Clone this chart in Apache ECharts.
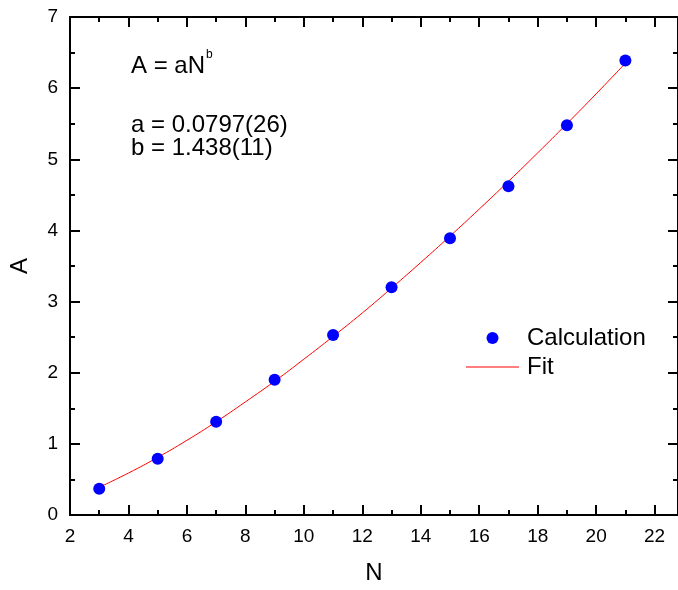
<!DOCTYPE html>
<html>
<head>
<meta charset="utf-8">
<script src="https://cdn.jsdelivr.net/npm/echarts@6/dist/echarts.min.js"></script>
<style>html,body{margin:0;padding:0;background:#fff}#c{width:678px;height:590px}</style>
</head>
<body>
<div id="c"></div>
<script>
// Calculated points
var calcN = [3, 5, 7, 9, 11, 13, 15, 17, 19, 21];
var calcA = [0.37, 0.79, 1.31, 1.90, 2.53, 3.20, 3.89, 4.62, 5.48, 6.39];
// Fit curve
var fitN = [3, 4, 5, 6, 7, 8, 9, 10, 11, 12, 13, 14, 15, 16, 17, 18, 19, 20, 21];
var fitA = [0.39, 0.59, 0.81, 1.05, 1.31, 1.59, 1.88, 2.19, 2.51, 2.84, 3.19, 3.55, 3.92, 4.30, 4.69, 5.09, 5.50, 5.92, 6.35];
var xTicks = [2, 4, 6, 8, 10, 12, 14, 16, 18, 20, 22];
var yTicks = [0, 1, 2, 3, 4, 5, 6, 7];
var formulaText = 'A = aN';
var formulaSup = 'b';
var paramA = 'a = 0.0797(26)';
var paramB = 'b = 1.438(11)';

var FONT = '"Liberation Sans", Arial, sans-serif';
var chart = echarts.init(document.getElementById('c'), null, {renderer: 'canvas'});

function zip(a, b) { return a.map(function (v, i) { return [v, b[i]]; }); }

var axisCommon = {
  axisLine: {onZero: false, lineStyle: {color: '#000', width: 2}},
  axisTick: {inside: true, length: 10, lineStyle: {color: '#000', width: 2}},
  minorTick: {show: true, splitNumber: 2, length: 5, lineStyle: {color: '#000', width: 2}},
  splitLine: {show: false}
};

chart.setOption({
  animation: false,
  backgroundColor: '#fff',
  grid: {left: 67, right: 0, top: 17, bottom: 73, containLabel: false},
  xAxis: [
    Object.assign({}, axisCommon, {
      type: 'value', min: 2, max: 22.8, interval: 2, position: 'bottom',
      name: 'N', nameLocation: 'middle', nameGap: 46,
      nameTextStyle: {fontFamily: FONT, fontSize: 24, color: '#000'},
      axisLabel: {fontFamily: FONT, fontSize: 19, color: '#000', margin: 12, showMaxLabel: false,
        formatter: function (v) { return xTicks.indexOf(v) >= 0 ? String(v) : ''; }}
    }),
    Object.assign({}, axisCommon, {
      type: 'value', min: 2, max: 22.8, interval: 2, position: 'top',
      axisLabel: {show: false}
    })
  ],
  yAxis: [
    Object.assign({}, axisCommon, {
      type: 'value', min: 0, max: 7, interval: 1, position: 'left',
      name: 'A', nameLocation: 'middle', nameGap: 38, nameRotate: 90,
      nameTextStyle: {fontFamily: FONT, fontSize: 24, color: '#000'},
      axisLabel: {fontFamily: FONT, fontSize: 19, color: '#000', margin: 12,
        formatter: function (v) { return yTicks.indexOf(v) >= 0 ? String(v) : ''; }}
    }),
    Object.assign({}, axisCommon, {
      type: 'value', min: 0, max: 7, interval: 1, position: 'right',
      axisLabel: {show: false}
    })
  ],
  legend: {
    orient: 'vertical', left: 461, top: 321,
    itemWidth: 53, itemHeight: 12, itemGap: 5,
    textStyle: {fontFamily: FONT, fontSize: 24, color: '#000', lineHeight: 12, padding: [0, 0, 0, 3]},
    data: [
      {name: 'Calculation', icon: 'circle', itemStyle: {color: '#0000ff', opacity: 1}},
      {name: 'Fit', icon: 'path://M0,0 L53,0 L53,1 L0,1 Z', itemStyle: {color: '#ff0000'}}
    ]
  },
  graphic: [
    {type: 'text', left: 131, top: 54, style: {text: formulaText, font: '24px ' + FONT, fill: '#000'}},
    {type: 'text', left: 206, top: 49, style: {text: formulaSup, font: '12px ' + FONT, fill: '#000'}},
    {type: 'text', left: 131, top: 113, style: {text: paramA, font: '24px ' + FONT, fill: '#000'}},
    {type: 'text', left: 131, top: 136, style: {text: paramB, font: '24px ' + FONT, fill: '#000'}}
  ],
  series: [
    {
      name: 'Fit', type: 'line', data: zip(fitN, fitA), smooth: true,
      symbol: 'none', lineStyle: {color: '#ff0000', width: 1}, itemStyle: {color: '#ff0000'}, z: 2
    },
    {
      name: 'Calculation', type: 'scatter', data: zip(calcN, calcA),
      symbol: 'circle', symbolSize: 12, itemStyle: {color: '#0000ff', opacity: 1}, z: 3
    }
  ]
});
</script>
</body>
</html>
